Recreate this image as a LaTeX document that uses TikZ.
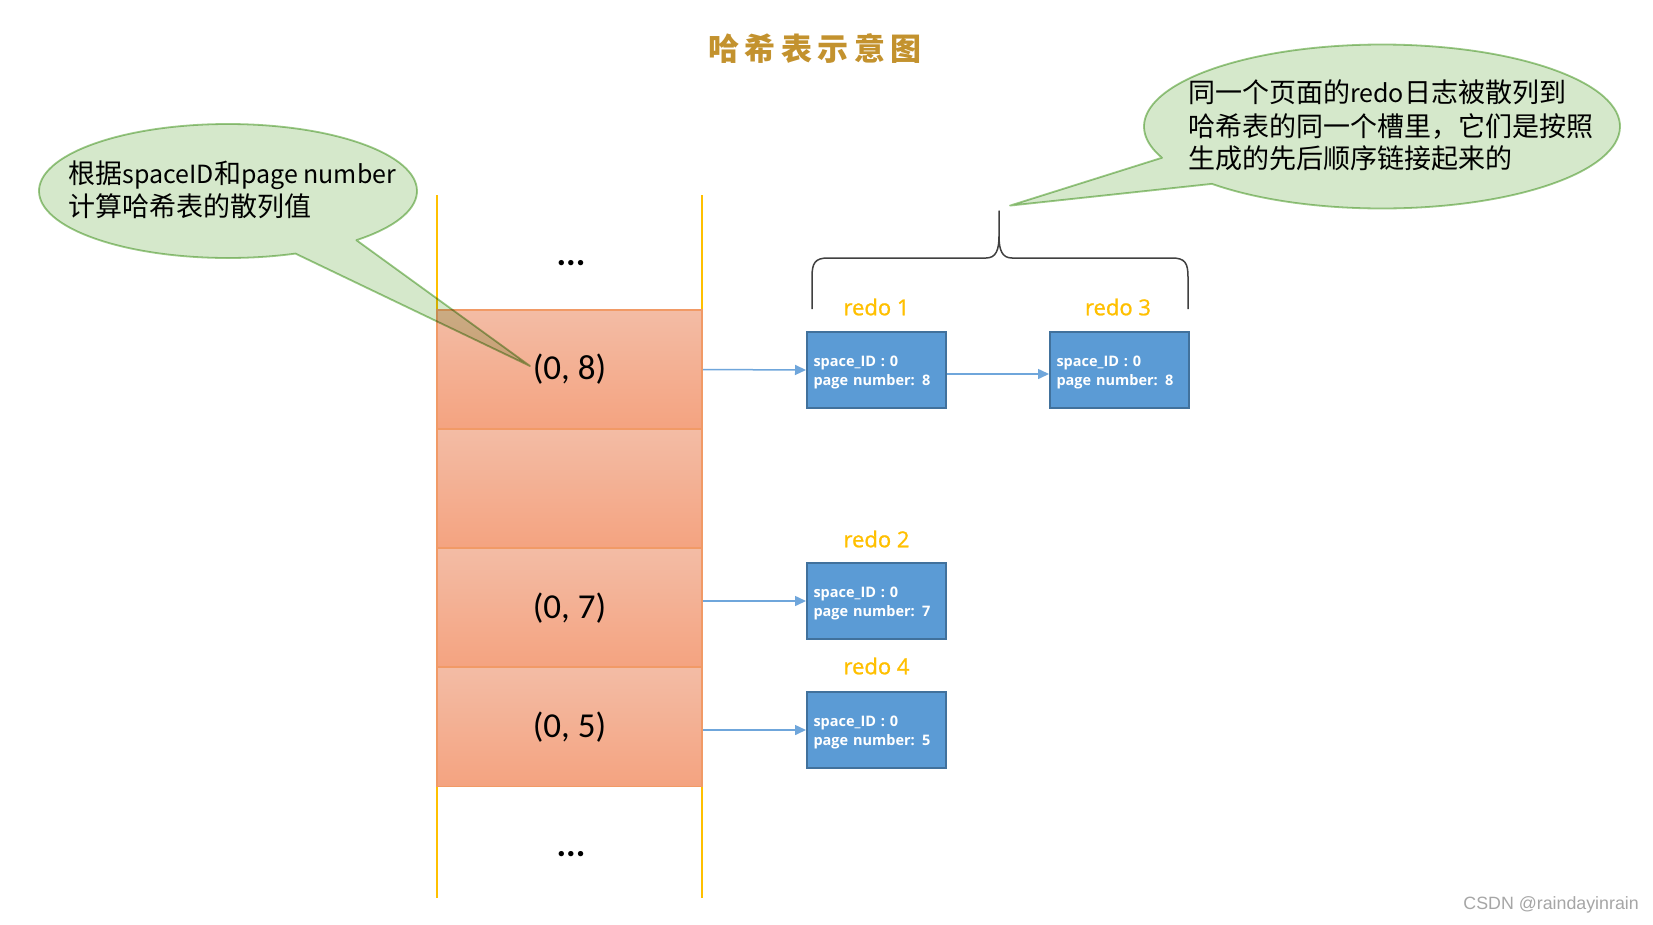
\documentclass[tikz,border=0pt]{standalone}
\usepackage{fontspec}
\usetikzlibrary{arrows.meta,calc}
\newfontfamily\cjk{Noto Sans CJK SC}
\newfontfamily\calib{Carlito}
\newfontfamily\arial{Liberation Sans}
\newfontfamily\osans{Open Sans}
\newfontfamily\osansm{Open Sans}[FakeBold=1]
\definecolor{gold}{HTML}{FFC000}
\definecolor{titlec}{HTML}{C3922E}
\definecolor{rowtop}{HTML}{F3BCA5}
\definecolor{rowbot}{HTML}{F4A380}
\definecolor{rowedge}{HTML}{F19A66}
\definecolor{bluef}{HTML}{5B9BD5}
\definecolor{bluee}{HTML}{41719C}
\definecolor{arrowc}{HTML}{6FA6DB}
\definecolor{bubf}{HTML}{D5E8CB}
\definecolor{bube}{HTML}{9CC987}
\definecolor{bracec}{HTML}{404040}
\definecolor{wmc}{HTML}{A6A6A6}
\newcommand{\lat}[1]{{\fontsize{25}{30}\selectfont #1}}
\tikzset{
  rowbox/.style={draw=rowedge, line width=1.5pt, top color=rowtop, bottom color=rowbot,
    minimum width=265pt, minimum height=119pt, inner sep=0pt,
    font=\calib\fontsize{35}{38}\selectfont, text=black},
  redobox/.style={draw=bluee, line width=2pt, fill=bluef, text=white,
    font=\osans\bfseries\fontsize{14.5}{18.5}\selectfont, text width=126pt, align=left,
    inner xsep=6.5pt, inner ysep=0pt, minimum height=76pt, text depth=17.5pt},
  redolab/.style={text=gold, font=\osansm\fontsize{22}{26}\selectfont, inner sep=0pt},
  conn/.style={draw=arrowc, line width=1.5pt, -{Triangle[length=11pt,width=10pt]}},
  yline/.style={draw=gold, line width=2.6pt},
  bubble/.style={fill=bubf, draw=bube, line width=1.8pt, line join=round},
  bubtext/.style={font=\cjk\fontsize{27}{30}\selectfont, inner sep=0pt, anchor=base west},
  dots/.style={font=\calib\bfseries\fontsize{36}{38}\selectfont, inner sep=0pt},
  bracesty/.style={draw=bracec, line width=1.5pt, line join=round}
}
\begin{document}
\begin{tikzpicture}[x=1pt,y=1pt]
\path[use as bounding box, fill=white] (0,0) rectangle (1653,-924);

% column
\coordinate (cTL) at (437,-195); \coordinate (cBL) at (437,-898);
\coordinate (cTR) at (702,-195); \coordinate (cBR) at (702,-898);
\draw[yline] (cTL) -- (cBL);
\draw[yline] (cTR) -- (cBR);

\node[rowbox] (r8) at (569.5,-369.5) {(0, 8)};
\node[rowbox] (rE) at (569.5,-488.6) {};
\node[rowbox] (r7) at (569.5,-607.7) {(0, 7)};
\node[rowbox] (r5) at (569.5,-726.8) {(0, 5)};

\node[dots] (dtop) at (571,-263) {...};
\node[dots] (dbot) at (571,-854) {...};

% redo boxes
\node[redobox] (redo1) at (876.5,-370) {space\_ID : 0\\page number: 8};
\node[redobox] (redo3) at (1119.5,-370) {space\_ID : 0\\page number: 8};
\node[redobox] (redo2) at (876.5,-601) {space\_ID : 0\\page number: 7};
\node[redobox] (redo4) at (876.5,-730) {space\_ID : 0\\page number: 5};

\node[redolab] (l1) at (876.5,-307) {redo 1};
\node[redolab] (l3) at (1118,-307) {redo 3};
\node[redolab] (l2) at (876.5,-539) {redo 2};
\node[redolab] (l4) at (876.5,-666) {redo 4};

\draw[conn] (r8.east) -- (redo1.west);
\draw[conn] ([yshift=-4pt]redo1.east) -- ([yshift=-4pt]redo3.west);
\draw[conn] (r7.east |- redo2.west) -- (redo2.west);
\draw[conn] (r5.east |- redo4.west) -- (redo4.west);

% brace
\draw[bracesty] (812,-309) -- (812,-277) .. controls (812,-263) and (815,-258) .. (828,-258)
  -- (986,-258) .. controls (996,-258) and (999,-250) .. (999,-236) -- (999,-211)
  -- (999,-236) .. controls (999,-250) and (1002,-258) .. (1012,-258)
  -- (1172,-258) .. controls (1185,-258) and (1188,-263) .. (1188,-277) -- (1188,-309);

% bubbles
\coordinate (lbc) at (228,-191); \coordinate (lbt) at (530,-366);
\coordinate (rbc) at (1382,-126.5); \coordinate (rbt) at (1010,-205.6);
\begin{scope}[blend mode=multiply]
\filldraw[bubble] ($(lbc)+(-47.2:189 and 67)$) arc[start angle=-47.2, end angle=290.9, x radius=189pt, y radius=67pt] -- (lbt) -- cycle;
\filldraw[bubble] ($(rbc)+(224.4:238 and 82)$) arc[start angle=224.4, end angle=562.4, x radius=238pt, y radius=82pt] -- (rbt) -- cycle;
\end{scope}

\node[bubtext] (lt1) at (68.5,-183.5) {根据\lat{spaceID}和\lat{page number}};
\node[bubtext] (lt2) at (68.5,-216) {计算哈希表的散列值};
\node[bubtext] (rt1) at (1188,-102.5) {同一个页面的\lat{redo}日志被散列到};
\node[bubtext] (rt2) at (1188,-136) {哈希表的同一个槽里，它们是按照};
\node[bubtext] (rt3) at (1188,-168.5) {生成的先后顺序链接起来的};

% title
\node[font=\cjk\bfseries\fontsize{31}{34}\selectfont, text=titlec, anchor=base, inner sep=0pt] (title) at (815,-60)
  {哈\hspace{5.5pt}希\hspace{5.5pt}表\hspace{5.5pt}示\hspace{5.5pt}意\hspace{5.5pt}图};

\node[font=\arial\fontsize{17.8}{20}\selectfont, text=wmc, anchor=base east, inner sep=0pt] (wm) at (1639,-909) {CSDN @raindayinrain};
\end{tikzpicture}
\end{document}
